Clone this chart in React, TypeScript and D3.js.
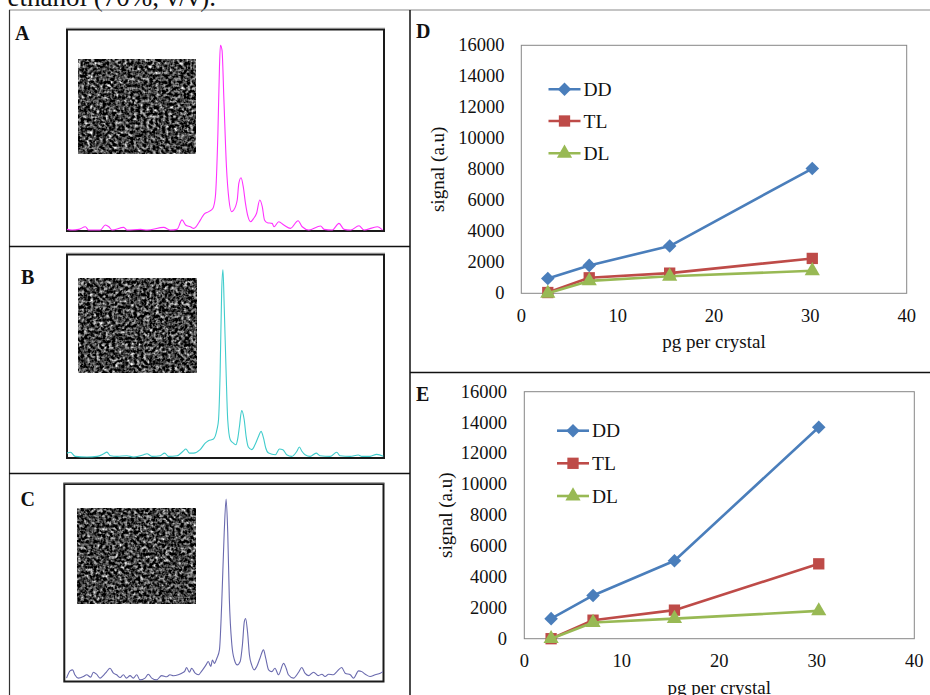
import React from 'react';
import * as d3 from 'd3';

// ---------- data ----------
const headerText = 'ethanol (70%, v/v).';
const panelLetters = ['A', 'B', 'C', 'D', 'E'];

// spectra: [channel (0-100), intensity (0-100)]
const spectrumA: [number, number][] = [
  [0, 0.8], [1.6, 0.5], [3.7, 0.8], [5.8, 2.1], [6.8, 0.5], [10.5, 0.5], [12.1, 3.0], [13.2, 2.1], [14.2, 0.5],
  [17.9, 1.8], [18.9, 0.5], [23.2, 0.8], [25.3, 0.5], [30.5, 1.8], [32.6, 0.5], [34.7, 0.8], [36.3, 5.5],
  [37.4, 3.0], [38.9, 2.1], [40.0, 1.3], [42.1, 5.5], [43.2, 8.3], [44.7, 9.6], [46.0, 11.2], [46.8, 17.0],
  [47.6, 48.4], [48.1, 81.5], [48.4, 92.2], [48.9, 89.8], [49.5, 65.0], [50.3, 31.9], [51.1, 15.4], [51.9, 9.6],
  [52.6, 10.4], [53.7, 15.4], [54.2, 23.6], [54.9, 26.4], [55.6, 22.0], [56.3, 13.7], [57.1, 7.1], [57.9, 4.6],
  [58.9, 6.3], [59.8, 8.8], [60.8, 15.4], [61.6, 12.1], [62.3, 5.5], [63.2, 4.1], [64.7, 3.8], [65.3, 2.1],
  [66.8, 4.6], [68.4, 3.0], [70.5, 1.3], [72.9, 5.1], [74.2, 2.1], [76.3, 0.5], [80.0, 2.5], [81.1, 0.8],
  [83.7, 0.5], [85.8, 3.8], [87.4, 0.8], [89.5, 0.5], [92.1, 2.6], [93.7, 0.5], [97.9, 2.1], [99.5, 0.5],
];
const spectrumB: [number, number][] = [
  [0, 2.4], [1.1, 2.8], [2.6, 0.8], [6.3, 0.5], [9.5, 0.8], [11.6, 2.1], [12.6, 2.9], [13.7, 1.1], [15.8, 0.8],
  [18.9, 1.1], [21.0, 0.5], [24.2, 1.6], [25.2, 2.1], [26.8, 0.8], [29.4, 1.1], [30.8, 2.4], [32.0, 0.8],
  [34.7, 1.1], [36.6, 3.3], [37.5, 4.4], [38.6, 2.4], [39.9, 2.4], [42.0, 4.1], [43.6, 7.3], [44.6, 8.5],
  [46.2, 9.3], [47.3, 13.9], [47.8, 18.8], [48.3, 41.6], [48.8, 82.4], [49.2, 92.5], [49.6, 74.2], [50.2, 41.6],
  [50.7, 18.8], [51.5, 9.0], [52.5, 7.3], [53.3, 6.5], [53.8, 9.0], [54.4, 15.5], [55.1, 23.3], [55.9, 18.8],
  [56.5, 10.6], [57.2, 5.4], [58.3, 4.1], [59.3, 6.5], [60.4, 10.6], [61.2, 13.1], [62.0, 9.8], [62.7, 4.9],
  [63.6, 2.4], [65.7, 1.6], [67.0, 4.4], [68.1, 4.1], [69.3, 1.6], [70.9, 0.8], [72.5, 3.3], [73.3, 5.4],
  [74.1, 3.3], [75.1, 1.6], [76.7, 0.8], [78.6, 2.4], [79.8, 1.1], [83.0, 0.8], [85.1, 2.8], [86.1, 1.1],
  [89.3, 0.8], [91.9, 1.5], [93.0, 0.8], [95.6, 0.8], [97.7, 1.8], [99.8, 0.8],
];
const spectrumC: [number, number][] = [
  [0.7, 1.7], [1.8, 5.4], [2.6, 5.9], [3.3, 3.4], [4.4, 1.7], [6.0, 2.5], [7.0, 3.4], [8.3, 2.2], [9.1, 4.7],
  [10.1, 3.7], [11.2, 1.7], [12.2, 3.0], [13.3, 5.0], [14.3, 6.7], [15.4, 4.2], [16.4, 3.4], [17.5, 2.0],
  [18.5, 3.4], [19.5, 1.7], [20.6, 3.0], [21.6, 1.7], [22.7, 3.4], [23.7, 0.8], [25.3, 1.7], [26.3, 3.7],
  [27.4, 1.7], [28.9, 0.8], [30.5, 3.0], [32.1, 2.4], [33.1, 3.4], [34.2, 2.9], [35.7, 3.4], [36.8, 4.2],
  [37.8, 5.4], [38.3, 7.1], [39.2, 4.7], [39.9, 6.7], [41.0, 4.2], [42.0, 3.4], [43.1, 5.4], [44.4, 8.4],
  [45.1, 10.1], [45.9, 7.6], [46.4, 10.9], [47.0, 9.2], [47.8, 11.8], [48.6, 16.0], [49.3, 38.7], [50.1, 75.6],
  [50.7, 92.4], [51.2, 75.6], [51.7, 42.0], [52.5, 18.5], [53.3, 10.9], [54.2, 8.4], [55.1, 10.1], [55.8, 18.5],
  [56.4, 30.3], [56.8, 31.9], [57.4, 25.2], [58.0, 13.4], [58.7, 8.4], [59.5, 5.9], [60.3, 7.6], [61.3, 11.8],
  [62.4, 16.0], [63.1, 11.8], [64.0, 5.9], [65.0, 5.0], [66.0, 6.7], [67.1, 3.4], [68.7, 9.2], [69.5, 6.7],
  [70.2, 3.4], [71.8, 1.7], [73.4, 4.7], [74.4, 7.1], [75.4, 4.2], [76.5, 3.0], [78.1, 4.7], [79.6, 3.0],
  [80.7, 3.7], [81.7, 2.5], [82.8, 3.7], [84.3, 3.4], [85.4, 5.0], [86.9, 7.1], [88.0, 4.2], [89.6, 3.4],
  [90.6, 1.7], [92.2, 5.4], [93.2, 5.0], [94.3, 3.7], [95.8, 2.5], [97.4, 3.4], [99.0, 4.2], [99.8, 5.0],
];

const pgPerCrystal = [2.75, 7.05, 15.4, 30.2];
const seriesNames = ['DD', 'TL', 'DL'];
const dSignalDD = [950, 1800, 3050, 8050];
const dSignalTL = [50, 1000, 1300, 2250];
const dSignalDL = [0, 800, 1100, 1450];
const eSignalDD = [1300, 2800, 5050, 13700];
const eSignalTL = [0, 1200, 1850, 4850];
const eSignalDL = [0, 1050, 1300, 1800];
const yTickValues = [0, 2000, 4000, 6000, 8000, 10000, 12000, 14000, 16000];
const xTickValues = [0, 10, 20, 30, 40];
const xAxisTitle = 'pg per crystal';
const yAxisTitle = 'signal (a.u)';

// ---------- styles ----------
const SERIF = '"Liberation Serif", "Times New Roman", serif';
const seriesColors = ['#4a7ebb', '#be4b48', '#98b954'];
const seriesShapes = ['diamond', 'square', 'triangle'];

function markerPath(shape: string): { d: string; rot: number } {
  if (shape === 'diamond') return { d: d3.symbol(d3.symbolSquare, 92)() as string, rot: 45 };
  if (shape === 'square') return { d: d3.symbol(d3.symbolSquare, 128)() as string, rot: 0 };
  return { d: d3.symbol(d3.symbolTriangle, 100)() as string, rot: 0 };
}

type Box = { x0: number; x1: number; y0: number; y1: number };

function Spectrum({ box, data, color, inset, seed, letter, letterPos }: {
  box: Box; data: [number, number][]; color: string; inset: Box; seed: number; letter: string; letterPos: [number, number];
}) {
  const x = d3.scaleLinear().domain([0, 100]).range([box.x0, box.x1]);
  const y = d3.scaleLinear().domain([0, 100]).range([box.y1, box.y0]);
  const line = d3.line<[number, number]>().x(d => x(d[0])).y(d => y(d[1])).curve(d3.curveMonotoneX);
  return (
    <g>
      <text x={letterPos[0]} y={letterPos[1]} fontFamily={SERIF} fontWeight="bold" fontSize={20} fill="#111">{letter}</text>
      <rect x={box.x0} y={box.y0} width={box.x1 - box.x0} height={box.y1 - box.y0} fill="#fff" stroke="#1a1a1a" strokeWidth={2} />
      <line x1={box.x0 - 1} x2={box.x1 + 1} y1={box.y0 - 1.2} y2={box.y0 - 1.2} stroke="#8a8a8a" strokeWidth={1.2} />
      <rect x={inset.x0} y={inset.y0} width={inset.x1 - inset.x0} height={inset.y1 - inset.y0} fill="#000" filter={`url(#speck${seed})`} />
      <path d={line(data) as string} fill="none" stroke={color} strokeWidth={1.1} />
    </g>
  );
}

function SignalChart({ plot, values, letter, letterPos, legendX, legendRows, yLabelRight, xLabelBaseline, yTitleX, xTitleBaseline }: {
  plot: Box; values: number[][]; letter: string; letterPos: [number, number]; legendX: number; legendRows: number[];
  yLabelRight: number; xLabelBaseline: number; yTitleX: number; xTitleBaseline: number;
}) {
  const x = d3.scaleLinear().domain([0, 40]).range([plot.x0, plot.x1]);
  const y = d3.scaleLinear().domain([0, 16000]).range([plot.y1, plot.y0]);
  const line = d3.line<number>().x((_, i) => x(pgPerCrystal[i])).y(d => y(d));
  const cy = (plot.y0 + plot.y1) / 2;
  const cx = (plot.x0 + plot.x1) / 2;
  return (
    <g>
      <text x={letterPos[0]} y={letterPos[1]} fontFamily={SERIF} fontWeight="bold" fontSize={20} fill="#111">{letter}</text>
      <rect x={plot.x0} y={plot.y0} width={plot.x1 - plot.x0} height={plot.y1 - plot.y0} fill="none" stroke="#868686" strokeWidth={1} />
      {yTickValues.map(t => (
        <text key={t} x={yLabelRight} y={y(t) + 6} textAnchor="end" fontFamily={SERIF} fontSize={18.5} fill="#111">{t}</text>
      ))}
      {xTickValues.map(t => (
        <text key={t} x={x(t)} y={xLabelBaseline} textAnchor="middle" fontFamily={SERIF} fontSize={18.5} fill="#111">{t}</text>
      ))}
      <text x={cx} y={xTitleBaseline} textAnchor="middle" fontFamily={SERIF} fontSize={19} fill="#111">{xAxisTitle}</text>
      <text transform={`translate(${yTitleX},${cy}) rotate(-90)`} textAnchor="middle" dominantBaseline="central" fontFamily={SERIF} fontSize={19} fill="#111">{yAxisTitle}</text>
      {values.map((vals, si) => {
        const m = markerPath(seriesShapes[si]);
        return (
          <g key={si}>
            <path d={line(vals) as string} fill="none" stroke={seriesColors[si]} strokeWidth={2.6} strokeLinejoin="round" />
            {vals.map((v, i) => (
              <path key={i} d={m.d} fill={seriesColors[si]} transform={`translate(${x(pgPerCrystal[i])},${y(v)}) rotate(${m.rot})`} />
            ))}
          </g>
        );
      })}
      {seriesNames.map((name, si) => {
        const m = markerPath(seriesShapes[si]);
        const ry = legendRows[si];
        return (
          <g key={name}>
            <line x1={legendX} x2={legendX + 32} y1={ry} y2={ry} stroke={seriesColors[si]} strokeWidth={2.6} />
            <path d={m.d} fill={seriesColors[si]} transform={`translate(${legendX + 16},${ry}) rotate(${m.rot})`} />
            <text x={legendX + 35} y={ry + 6.5} fontFamily={SERIF} fontSize={19.5} fill="#111">{name}</text>
          </g>
        );
      })}
    </g>
  );
}

export default function App() {
  const seeds = [3, 11, 27];
  return (
    <svg width={930} height={695} style={{ position: 'absolute', left: 0, top: 0, background: '#fff' }}>
      <defs>
        {seeds.map(s => (
          <filter key={s} id={`speck${s}`} x="0" y="0" width="1" height="1" colorInterpolationFilters="sRGB">
            <feTurbulence type="fractalNoise" baseFrequency="0.32" numOctaves={2} seed={s} />
            <feColorMatrix type="matrix" values="0.33 0.33 0.33 0 0  0.33 0.33 0.33 0 0  0.33 0.33 0.33 0 0  0 0 0 0 1" />
            <feComponentTransfer>
              <feFuncR type="linear" slope={3.3} intercept={-1.38} />
              <feFuncG type="linear" slope={3.3} intercept={-1.38} />
              <feFuncB type="linear" slope={3.3} intercept={-1.38} />
            </feComponentTransfer>
          </filter>
        ))}
      </defs>
      <rect width={930} height={695} fill="#fff" />
      <text x={216} y={5.5} textAnchor="end" fontFamily={SERIF} fontSize={27} fill="#111">{headerText}</text>

      {/* table grid */}
      <line x1={9} x2={930} y1={10} y2={10} stroke="#8a8a8a" strokeWidth={1.2} />
      <line x1={9.5} x2={9.5} y1={10} y2={695} stroke="#333" strokeWidth={1.2} />
      <line x1={410} x2={410} y1={10} y2={695} stroke="#111" strokeWidth={1.5} />
      <line x1={9} x2={410} y1={246.5} y2={246.5} stroke="#111" strokeWidth={1.5} />
      <line x1={9} x2={410} y1={473.5} y2={473.5} stroke="#111" strokeWidth={1.5} />
      <line x1={410} x2={930} y1={372.5} y2={372.5} stroke="#111" strokeWidth={1.5} />

      <Spectrum box={{ x0: 67, x1: 384, y0: 29.5, y1: 231 }} data={spectrumA} color="#ff33ff"
        inset={{ x0: 78.3, x1: 196, y0: 59, y1: 154 }} seed={3} letter={panelLetters[0]} letterPos={[15, 40]} />
      <Spectrum box={{ x0: 67, x1: 384, y0: 254.5, y1: 458 }} data={spectrumB} color="#40cccc"
        inset={{ x0: 78, x1: 196.7, y0: 278, y1: 372.7 }} seed={11} letter={panelLetters[1]} letterPos={[21, 284]} />
      <Spectrum box={{ x0: 64.3, x1: 383.5, y0: 484, y1: 681.5 }} data={spectrumC} color="#6a6aae"
        inset={{ x0: 77, x1: 196, y0: 508.3, y1: 603.3 }} seed={27} letter={panelLetters[2]} letterPos={[20.5, 505.5]} />

      <SignalChart plot={{ x0: 521.3, x1: 906.7, y0: 45.3, y1: 293.3 }} values={[dSignalDD, dSignalTL, dSignalDL]}
        letter={panelLetters[3]} letterPos={[416, 37.5]} legendX={548.5} legendRows={[89.3, 121, 153.3]}
        yLabelRight={504.5} xLabelBaseline={322} yTitleX={437} xTitleBaseline={348} />
      <SignalChart plot={{ x0: 524.3, x1: 914.3, y0: 391.7, y1: 638.7 }} values={[eSignalDD, eSignalTL, eSignalDL]}
        letter={panelLetters[4]} letterPos={[416, 400.5]} legendX={557} legendRows={[430.7, 463.3, 496]}
        yLabelRight={507} xLabelBaseline={667} yTitleX={445} xTitleBaseline={694} />
    </svg>
  );
}
